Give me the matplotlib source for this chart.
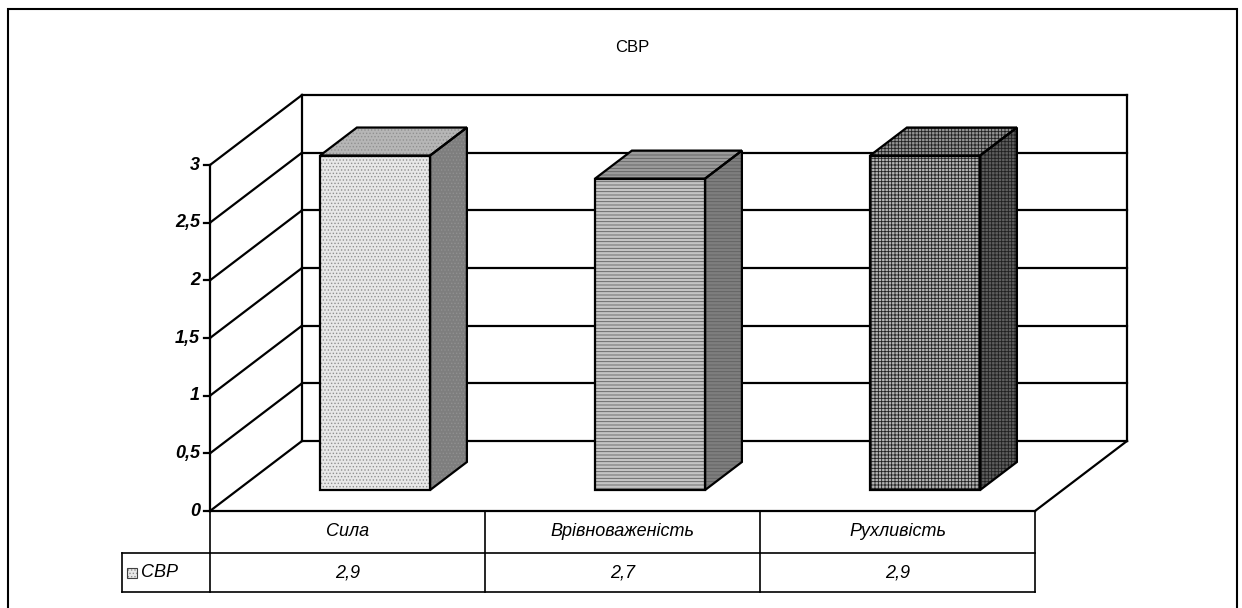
import matplotlib
matplotlib.use("Agg")
import numpy as np
import matplotlib.pyplot as plt
from matplotlib.patches import Polygon, Rectangle
from matplotlib.transforms import Affine2D, IdentityTransform

plt.rcParams['font.family'] = ['Liberation Sans', 'DejaVu Sans']
plt.rcParams['hatch.linewidth'] = 0.6

# data
title = 'СВР'
series_name = 'СВР'
categories = ['Сила', 'Врівноваженість', 'Рухливість']
values = [2.9, 2.7, 2.9]
y_ticks = [0, 0.5, 1, 1.5, 2, 2.5, 3]

# bar styles (front, top, side)
front_col = ['#e8e8e8', '#c4c4c4', '#b4b4b4']
top_col = ['#b6b6b6', '#9c9c9c', '#949494']
side_col = ['#7e7e7e', '#7e7e7e', '#5e5e5e']
hatch_col = ['#909090', '#606060', '#202020']
hatches = ['.....', '-----', '+++++']

W, H = 1242, 608
fig = plt.figure(figsize=(W / 100, H / 100), dpi=100)
ax = fig.add_axes([210 / W, (H - 511) / H, 825 / W, 346 / H])
ax.set_xlim(0, len(categories))
ax.set_ylim(0, 3)
ax.axis('off')

depth = np.array([92.0, 70.0])  # px offset from front plane to back wall
ident = IdentityTransform()
LW = 1.6


def pt(x, y, d=0.0):
    return ax.transData.transform((x, y)) + d * depth


def line(p0, p1, lw=LW, z=3):
    ax.plot([p0[0], p1[0]], [p0[1], p1[1]], color='black', lw=lw,
            transform=ident, clip_on=False, zorder=z, solid_capstyle='projecting')


def face(pts, fc, hc, hatch, z):
    ax.add_patch(Polygon(pts, closed=True, facecolor=fc, edgecolor=hc, hatch=hatch,
                         lw=0, transform=ident, clip_on=False, zorder=z))
    ax.add_patch(Polygon(pts, closed=True, fill=False, edgecolor='black',
                         lw=LW, transform=ident, clip_on=False, zorder=z + 0.1))


n = len(categories)
top = y_ticks[-1]

# back wall
ax.add_patch(Polygon([pt(0, 0, 1), pt(n, 0, 1), pt(n, top, 1), pt(0, top, 1)],
                     closed=True, facecolor='white', edgecolor='none',
                     transform=ident, clip_on=False, zorder=1))
for t in y_ticks:
    line(pt(0, t, 1), pt(n, t, 1), z=2)
    line(pt(0, t, 0), pt(0, t, 1), z=2)
line(pt(0, 0, 1), pt(0, top, 1), z=2)
line(pt(n, 0, 1), pt(n, top, 1), z=2)

# floor
line(pt(0, 0, 0), pt(n, 0, 0), z=2)
line(pt(n, 0, 0), pt(n, 0, 1), z=2)

# bars
w = 0.4
d0, d1 = 0.3, 0.7
t_front = ax.transData + Affine2D().translate(*(d0 * depth))
for i, v in enumerate(values):
    xc = i + 0.5
    x0, x1 = xc - w / 2, xc + w / 2
    face([pt(x1, 0, d0), pt(x1, 0, d1), pt(x1, v, d1), pt(x1, v, d0)],
         side_col[i], hatch_col[i], hatches[i], 4)
    face([pt(x0, v, d0), pt(x1, v, d0), pt(x1, v, d1), pt(x0, v, d1)],
         top_col[i], hatch_col[i], hatches[i], 4)
    ax.bar(xc, v, width=w, color=front_col[i], edgecolor=hatch_col[i], hatch=hatches[i],
           lw=0, transform=t_front, clip_on=False, zorder=5)
    ax.bar(xc, v, width=w, fill=False, edgecolor='black', lw=LW,
           transform=t_front, clip_on=False, zorder=5.1)

# front axis and ticks
line(pt(0, 0), pt(0, top), z=6)
for t in y_ticks:
    p = pt(0, t)
    line(p - [6, 0], p, z=6)
    ax.text(p[0] - 10, p[1], ('%g' % t).replace('.', ','), transform=ident,
            ha='right', va='center', fontsize=13, fontweight='bold', fontstyle='italic')

# data table
row1 = pt(0, 0)[1] - 42
row2 = pt(0, 0)[1] - 81
x_left = 122
TLW = 1.2
for i in range(n + 1):
    x = pt(i, 0)[0]
    line((x, pt(0, 0)[1]), (x, row2), lw=TLW, z=6)
line((x_left, row1), pt(n, 0) - [0, 42], lw=TLW, z=6)
line((x_left, row2), (pt(n, 0)[0], row2), lw=TLW, z=6)
line((x_left, row1), (x_left, row2), lw=TLW, z=6)
for i, (c, v) in enumerate(zip(categories, values)):
    xc = pt(i + 0.5, 0)[0]
    ax.text(xc, (pt(0, 0)[1] + row1) / 2, c, transform=ident, ha='center', va='center',
            fontsize=13, fontstyle='italic')
    ax.text(xc, (row1 + row2) / 2, ('%g' % v).replace('.', ','), transform=ident,
            ha='center', va='center', fontsize=13, fontstyle='italic')
ym = (row1 + row2) / 2
ax.add_patch(Rectangle((127, ym - 5), 10, 10, facecolor=front_col[0], edgecolor=hatch_col[0],
                       hatch=hatches[0], lw=0, transform=ident, clip_on=False, zorder=6))
ax.add_patch(Rectangle((127, ym - 5), 10, 10, fill=False, edgecolor='#404040',
                       lw=0.8, transform=ident, clip_on=False, zorder=6.1))
ax.text(141, ym, series_name, transform=ident, ha='left', va='center',
        fontsize=13, fontstyle='italic')

# title and outer border
fig.text(632 / W, (H - 48) / H, title, ha='center', va='center', fontsize=12)
fig.add_artist(Rectangle((8 / W, -0.05), 1229 / W, (H - 9) / H + 0.05, fill=False,
                         edgecolor='black', lw=1.5, transform=fig.transFigure))

fig.savefig('out.png', dpi=100)
